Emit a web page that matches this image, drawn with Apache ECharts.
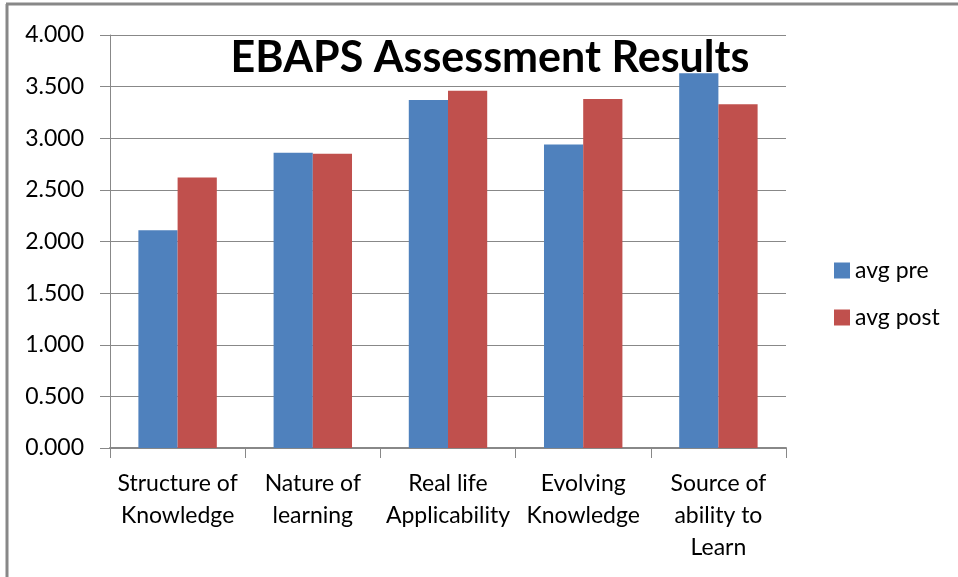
<!DOCTYPE html>
<html>
<head>
<meta charset="utf-8">
<script src="https://cdn.jsdelivr.net/npm/echarts@6/dist/echarts.min.js"></script>
<style>
  html, body { margin: 0; padding: 0; background: #fff; }
  #chart { width: 958px; height: 577px; }
</style>
</head>
<body>
<div id="chart"></div>
<script>
var categories = ['Structure of\nKnowledge', 'Nature of\nlearning', 'Real life\nApplicability', 'Evolving\nKnowledge', 'Source of\nability to\nLearn'];
var avgPre = [2.11, 2.86, 3.37, 2.94, 3.63];
var avgPost = [2.62, 2.85, 3.46, 3.38, 3.33];

var chart = echarts.init(document.getElementById('chart'));

var font = 'Lato, "Open Sans", sans-serif';

var option = {
  animation: false,
  title: {
    text: 'EBAPS Assessment Results',
    left: 485,
    top: 32,
    textAlign: 'center',
    textStyle: { fontFamily: font, fontSize: 43, fontWeight: 'bold', color: '#000' }
  },
  graphic: [
    { type: 'line', shape: { x1: 6, y1: 4, x2: 958, y2: 4 }, style: { stroke: '#888', lineWidth: 3 }, silent: true },
    { type: 'line', shape: { x1: 7, y1: 4, x2: 7, y2: 577 }, style: { stroke: '#888', lineWidth: 3 }, silent: true }
  ],
  legend: {
    orient: 'vertical',
    left: 829,
    top: 254,
    itemGap: 24,
    itemWidth: 16,
    itemHeight: 16,
    icon: 'rect',
    textStyle: { fontFamily: font, fontSize: 23, color: '#000' },
    data: ['avg pre', 'avg post']
  },
  grid: { left: 110, right: 172, top: 35, bottom: 129 },
  xAxis: {
    type: 'category',
    data: categories,
    axisLine: { lineStyle: { color: '#888', width: 2 } },
    axisTick: { show: true, length: 10, lineStyle: { color: '#888' } },
    axisLabel: { fontFamily: font, fontSize: 23, color: '#000', lineHeight: 32, margin: 20, interval: 0 }
  },
  yAxis: {
    type: 'value',
    min: 0,
    max: 4,
    interval: 0.5,
    axisLine: { show: true, lineStyle: { color: '#888', width: 1 } },
    axisTick: { show: true, length: 10, lineStyle: { color: '#888' } },
    splitLine: { lineStyle: { color: '#888', width: 1 } },
    axisLabel: {
      fontFamily: font, fontSize: 23, color: '#000', margin: 26,
      formatter: function (v) { return v.toFixed(3); }
    }
  },
  series: [
    {
      name: 'avg pre',
      type: 'bar',
      data: avgPre,
      barGap: '0%',
      barCategoryGap: '42%',
      itemStyle: { color: '#4F81BD' }
    },
    {
      name: 'avg post',
      type: 'bar',
      data: avgPost,
      itemStyle: { color: '#C0504D' }
    }
  ]
};

chart.setOption(option);
</script>
</body>
</html>
